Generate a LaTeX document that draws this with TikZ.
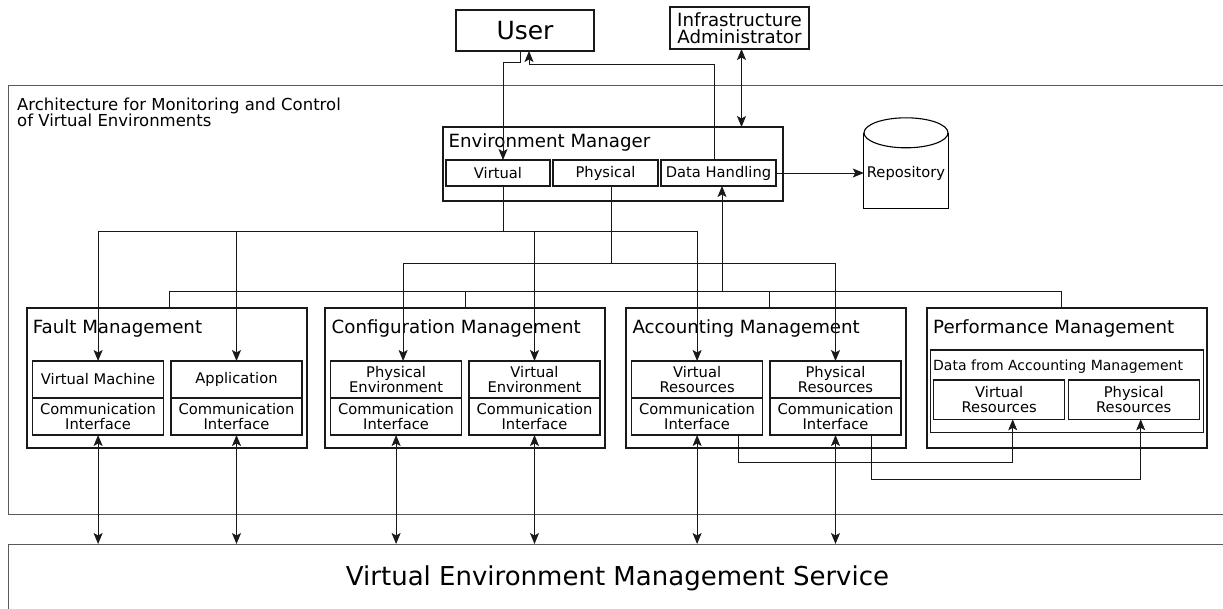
\documentclass[tikz,border=0pt]{standalone}
\usepackage{fontspec}
\setmainfont{DejaVu Sans}
\usetikzlibrary{positioning, arrows.meta}
\newcommand{\txtbig}{\fontsize{25}{27}\selectfont}
\newcommand{\txtservice}{\fontsize{26}{28}\selectfont}
\newcommand{\txthead}{\fontsize{18.2}{17}\selectfont}
\newcommand{\txtarch}{\fontsize{16.5}{16}\selectfont}
\newcommand{\txtbody}{\fontsize{14.7}{15}\selectfont}
\newcommand{\txtsmall}{\fontsize{14}{15}\selectfont}
\tikzstyle{frame} = [rectangle, draw=black!65, line width=1pt, outer sep=0pt]
\tikzstyle{actor} = [rectangle, draw=black!90, line width=1.1pt, outer sep=0pt, align=center]
\tikzstyle{mgmt} = [rectangle, draw=black!90, line width=1.1pt,
    minimum width=280pt, minimum height=140pt, outer sep=0pt]
\tikzstyle{cell} = [rectangle, draw=black!90, line width=1.1pt, minimum width=131pt,
    minimum height=37pt, inner sep=1pt, outer sep=0pt, align=center, font=\txtbody]
\tikzstyle{sub} = [rectangle, draw=black!90, line width=1.1pt, minimum height=26pt,
    inner sep=2pt, outer sep=0pt, font=\txtbody]
\tikzstyle{title} = [inner sep=0pt, text height=13.8pt, font=\txthead]
\tikzstyle{wire} = [line width=0.9pt, draw=black!90]
\tikzstyle{arrow} = [wire, ->, >={Stealth[length=11pt, width=9pt, inset=2.5pt]}]
\tikzstyle{dblarrow} = [arrow, <->]

\begin{document}
\begin{tikzpicture}[x=1pt, y=-1pt]
    \useasboundingbox (0,0) rectangle (1223,608);

    % frames
    \node (arch) [frame, minimum width=1219pt, minimum height=429pt] at (617.5,299.5) {};
    \node (archt) [below right=13pt and 9pt of arch.north west, inner sep=0pt,
        align=left, font=\txtarch] {Architecture for Monitoring and Control\\of Virtual Environments};
    \node (service) [frame, minimum width=1219pt, minimum height=68pt, font=\txtservice]
        at (617.5,578) {Virtual Environment Management Service};

    % actors
    \node (user) [actor, minimum width=138pt, minimum height=41pt, font=\txtbig] at (525,30.5) {User};
    \node (admin) [actor, minimum width=139pt, minimum height=42pt, inner sep=1pt, font=\txthead]
        at (739.5,28) {Infrastructure\\Administrator};

    % environment manager
    \node (envmgr) [actor, minimum width=340pt, minimum height=74pt] at (613,164) {};
    \node (envt) [title, below right=6.7pt and 5.3pt of envmgr.north west] {Environment Manager};
    \node (virt) [sub, minimum width=104pt, below right=33pt and 3pt of envmgr.north west] {Virtual};
    \node (phys) [sub, minimum width=105pt, right=3pt of virt] {Physical};
    \node (dh) [sub, minimum width=115pt, right=3pt of phys] {Data Handling};

    % repository
    \node (repo) [minimum width=84pt, minimum height=75pt, inner sep=0pt, text height=18pt,
        font=\txtbody] at (906,170.5) {Repository};
    \draw[line width=1.1pt] (repo.north west) -- (repo.south west) -- (repo.south east) -- (repo.north east);
    \draw[line width=1.1pt] (repo.north) ellipse [x radius=42pt, y radius=15pt];

    % fault management
    \node (fault) [mgmt] at (167,378) {};
    \node (faultt) [title, below right=11.5pt and 5.6pt of fault.north west] {Fault Management};
    \node (vm) [cell, below right=53pt and 5.6pt of fault.north west] {Virtual Machine};
    \node (vmci) [cell, below=0pt of vm] {Communication\\Interface};
    \node (app) [cell, right=7.4pt of vm] {Application};
    \node (appci) [cell, below=0pt of app] {Communication\\Interface};

    % configuration management
    \node (config) [mgmt] at (465,378) {};
    \node (configt) [title, below right=11.5pt and 6.5pt of config.north west] {Configuration Management};
    \node (pe) [cell, below right=53pt and 5.6pt of config.north west] {Physical\\Environment};
    \node (peci) [cell, below=0pt of pe] {Communication\\Interface};
    \node (ve) [cell, right=7.4pt of pe] {Virtual\\Environment};
    \node (veci) [cell, below=0pt of ve] {Communication\\Interface};

    % accounting management
    \node (acct) [mgmt] at (766,378) {};
    \node (acctt) [title, below right=11.5pt and 6.3pt of acct.north west] {Accounting Management};
    \node (avr) [cell, below right=53pt and 5.6pt of acct.north west] {Virtual\\Resources};
    \node (avrci) [cell, below=0pt of avr] {Communication\\Interface};
    \node (apr) [cell, right=7.4pt of avr] {Physical\\Resources};
    \node (aprci) [cell, below=0pt of apr] {Communication\\Interface};

    % performance management
    \node (perf) [mgmt] at (1067,378) {};
    \node (perft) [title, below right=11.5pt and 6pt of perf.north west] {Performance Management};
    \node (dfa) [rectangle, draw=black!90, line width=1.1pt, outer sep=0pt, minimum width=272.8pt,
        minimum height=82.3pt, below right=42pt and 3.6pt of perf.north west] {};
    \node (dfat) [inner sep=0pt, text height=10.6pt, font=\txtsmall,
        below right=9.6pt and 2.4pt of dfa.north west] {Data from Accounting Management};
    \node (pvr) [cell, minimum height=39.3pt, below right=30pt and 3.1pt of dfa.north west] {Virtual\\Resources};
    \node (ppr) [cell, minimum height=39.3pt, right=3.5pt of pvr] {Physical\\Resources};

    % user and administrator
    \draw[arrow] ([xshift=-5pt]user.south) -- ++(0,11) -| ([xshift=5pt]virt.north);
    \draw[arrow] ([xshift=-4.5pt]dh.north) -- ++(0,-96) -| ([xshift=4pt]user.south);
    \draw[dblarrow] ([xshift=2pt]admin.south) -- ++(0,78);
    \draw[arrow] (dh.east) -- (repo.west |- dh.east);

    % virtual bus
    \coordinate (vbus) at (503,231);
    \draw[wire] ([xshift=5pt]virt.south) -- (vbus);
    \draw[wire] (vm.north |- vbus) -- (avr.north |- vbus);
    \draw[arrow] (vm.north |- vbus) -- (vm.north);
    \draw[arrow] (app.north |- vbus) -- (app.north);
    \draw[arrow] (ve.north |- vbus) -- (ve.north);
    \draw[arrow] (avr.north |- vbus) -- (avr.north);

    % physical bus
    \coordinate (pbus) at (611,263);
    \coordinate (pein) at ([xshift=7pt]pe.north);
    \draw[wire] ([xshift=5.5pt]phys.south) -- (pbus);
    \draw[wire] (pein |- pbus) -- (apr.north |- pbus);
    \draw[arrow] (pein |- pbus) -- (pein);
    \draw[arrow] (apr.north |- pbus) -- (apr.north);

    % data back to data handling
    \coordinate (fbus) at (722,291);
    \coordinate (faultin) at ([xshift=2pt]fault.north);
    \coordinate (acctin) at ([xshift=3.5pt]acct.north);
    \coordinate (perfin) at ([xshift=-5.5pt]perf.north);
    \draw[wire] (faultin) |- (perfin |- fbus) -- (perfin);
    \draw[wire] (config.north) -- (config.north |- fbus);
    \draw[wire] (acctin) -- (acctin |- fbus);
    \draw[arrow] (fbus) -- ([xshift=3.5pt]dh.south);

    % accounting to performance
    \draw[arrow] ([xshift=41pt]avrci.south) -- ++(0,27) -| ([xshift=13.5pt]pvr.south);
    \draw[arrow] ([xshift=36pt]aprci.south) -- ++(0,44) -| ([xshift=7pt]ppr.south);

    % interfaces to service
    \draw[dblarrow] (vmci.south) -- (vmci.south |- service.north);
    \draw[dblarrow] (appci.south) -- (appci.south |- service.north);
    \draw[dblarrow] (peci.south) -- (peci.south |- service.north);
    \draw[dblarrow] (veci.south) -- (veci.south |- service.north);
    \draw[dblarrow] (avrci.south) -- (avrci.south |- service.north);
    \draw[dblarrow] (aprci.south) -- (aprci.south |- service.north);
\end{tikzpicture}
\end{document}
